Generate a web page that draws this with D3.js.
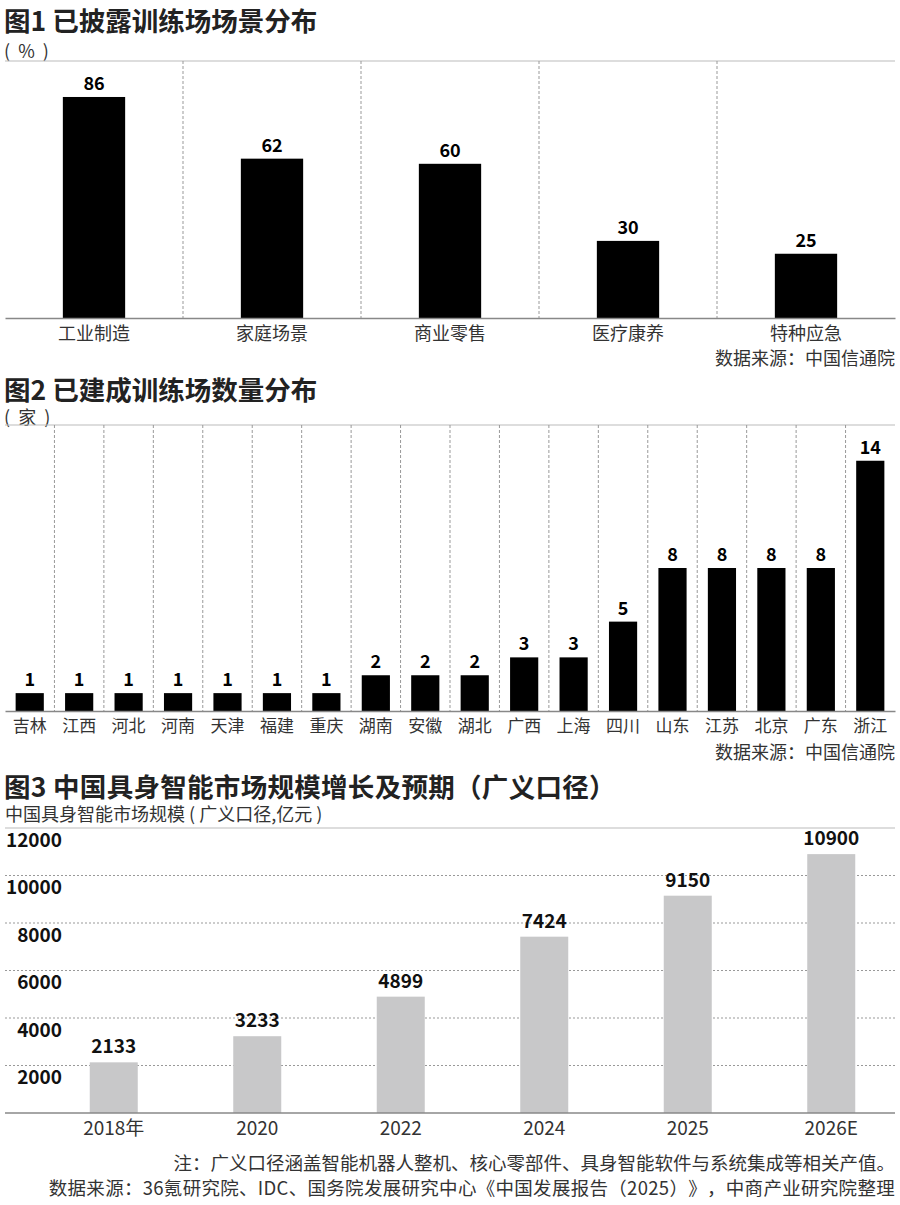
<!DOCTYPE html>
<html>
<head>
<meta charset="utf-8">
<script src="https://cdn.jsdelivr.net/npm/d3@7/dist/d3.min.js"></script>
<style>
    body { margin: 0; background: #fff; }
    text { font-family: "Noto Sans CJK SC", "Noto Sans", sans-serif; text-spacing-trim: space-all; }
</style>
</head>
<body>
<div id="chart"></div>
<script>
// fig 1 - training ground scenes (%)
let sceneNames = ["工业制造", "家庭场景", "商业零售", "医疗康养", "特种应急"];
let sceneShare = [86, 62, 60, 30, 25];

// fig 2 - training grounds built, by province
let provinceNames = ["吉林", "江西", "河北", "河南", "天津", "福建", "重庆", "湖南", "安徽",
    "湖北", "广西", "上海", "四川", "山东", "江苏", "北京", "广东", "浙江"];
let siteCount = [1, 1, 1, 1, 1, 1, 1, 2, 2, 2, 3, 3, 5, 8, 8, 8, 8, 14];

// fig 3 - market size (100m yuan)
let yearLabels = ["2018年", "2020", "2022", "2024", "2025", "2026E"];
let marketSize = [2133, 3233, 4899, 7424, 9150, 10900];
let marketTicks = [2000, 4000, 6000, 8000, 10000, 12000];

let left = 5, right = 895;

let svg = d3.select("#chart").append("svg")
    .attr("width", 900)
    .attr("height", 1205);

function addText(x, y, txt, size, opts) {
    opts = opts || {};
    return svg.append("text")
        .attr("x", x)
        .attr("y", y)
        .attr("dominant-baseline", "central")
        .attr("text-anchor", opts.anchor || "start")
        .attr("font-size", size + "px")
        .attr("font-weight", opts.weight || "normal")
        .attr("letter-spacing", opts.spacing || null)
        .attr("xml:space", "preserve")
        .attr("fill", opts.color || "#333")
        .text(txt);
}

function hLine(y, color, width) {
    svg.append("line")
        .attr("x1", left).attr("x2", right)
        .attr("y1", y).attr("y2", y)
        .attr("stroke", color)
        .attr("stroke-width", width || 1.2);
}

// black column chart with dashed separators (fig 1 and fig 2)
function columnChart(names, values, maxVal, top, base, barFrac, labelSize) {
    let x = d3.scaleBand().domain(names).range([left, right]);
    let y = d3.scaleLinear().domain([0, maxVal]).range([base, top]);

    hLine(top, "#bbb");

    svg.append("g").selectAll("line")
        .data(names.slice(1))
        .enter().append("line")
        .attr("x1", d => x(d)).attr("x2", d => x(d))
        .attr("y1", top).attr("y2", base)
        .attr("stroke", "#999")
        .attr("stroke-width", 1)
        .attr("stroke-dasharray", "3,2");

    let bw = x.bandwidth() * barFrac;
    let rows = names.map((n, i) => ({name: n, value: values[i]}));

    svg.append("g").selectAll("rect")
        .data(rows)
        .enter().append("rect")
        .attr("x", d => x(d.name) + (x.bandwidth() - bw) / 2)
        .attr("y", d => y(d.value))
        .attr("width", bw)
        .attr("height", d => base - y(d.value))
        .attr("fill", "#000");

    svg.append("g").selectAll("text")
        .data(rows)
        .enter().append("text")
        .attr("x", d => x(d.name) + x.bandwidth() / 2)
        .attr("y", d => y(d.value) - 7)
        .attr("text-anchor", "middle")
        .attr("font-size", "18px")
        .attr("font-weight", "bold")
        .attr("fill", "#000")
        .text(d => d.value);

    let axis = svg.append("g")
        .attr("transform", "translate(0," + base + ")")
        .call(d3.axisBottom(x).tickSize(0).tickPadding(9).tickSizeOuter(0));
    axis.select(".domain").attr("stroke", "#888").attr("stroke-width", 1.5);
    axis.selectAll("text")
        .attr("font-size", labelSize + "px")
        .attr("font-family", "Noto Sans CJK SC")
        .attr("fill", "#333");
}

// ---- fig 1
addText(4, 19, "图1 已披露训练场场景分布", 26.5, {weight: "bold", color: "#222"});
addText(4, 50, "(  %  )", 18, {color: "#333"});
columnChart(sceneNames, sceneShare, 100, 61, 318, 0.35, 18);
addText(right, 357, "数据来源：中国信通院", 18, {anchor: "end"});

// ---- fig 2
addText(4, 388, "图2 已建成训练场数量分布", 26.5, {weight: "bold", color: "#222"});
addText(4, 416, "(  家  )", 18, {color: "#333"});
columnChart(provinceNames, siteCount, 16, 425, 711, 0.57, 17);
addText(right, 751, "数据来源：中国信通院", 18, {anchor: "end"});

// ---- fig 3
addText(4, 785, "图3 中国具身智能市场规模增长及预期（广义口径）", 26.5, {weight: "bold", color: "#222", spacing: 0.3});
addText(5, 813, "中国具身智能市场规模 ( 广义口径,亿元 )", 18, {color: "#333"});

let x3 = d3.scaleBand().domain(yearLabels).range([42, 903]);
let y3 = d3.scaleLinear().domain([0, 12000]).range([1113, 828]);

// grid
svg.append("g").selectAll("line")
    .data(marketTicks)
    .enter().append("line")
    .attr("x1", left).attr("x2", right)
    .attr("y1", d => y3(d)).attr("y2", d => y3(d))
    .attr("stroke", d => d === 12000 ? "#bbb" : "#999")
    .attr("stroke-width", d => d === 12000 ? 1.2 : 1)
    .attr("stroke-dasharray", d => d === 12000 ? null : "2,2");

// y labels sit just under their grid line
let yAxis3 = svg.append("g")
    .attr("transform", "translate(62,12)")
    .call(d3.axisLeft(y3).tickValues(marketTicks).tickFormat(d3.format("d")).tickSize(0).tickPadding(0));
yAxis3.select(".domain").remove();
yAxis3.selectAll("text")
    .attr("font-size", "19px")
    .attr("font-weight", "bold")
    .attr("font-family", "Noto Sans CJK SC")
    .attr("fill", "#111");

let bw3 = 48;
let market = yearLabels.map((n, i) => ({year: n, value: marketSize[i]}));

svg.append("g").selectAll("rect")
    .data(market)
    .enter().append("rect")
    .attr("x", d => x3(d.year) + x3.bandwidth() / 2 - bw3 / 2)
    .attr("y", d => y3(d.value))
    .attr("width", bw3)
    .attr("height", d => 1113 - y3(d.value))
    .attr("fill", "#c8c8c9");

svg.append("g").selectAll("text")
    .data(market)
    .enter().append("text")
    .attr("x", d => x3(d.year) + x3.bandwidth() / 2)
    .attr("y", d => y3(d.value) - 9)
    .attr("text-anchor", "middle")
    .attr("font-size", "19px")
    .attr("font-weight", "bold")
    .attr("fill", "#111")
    .text(d => d.value);

let xAxis3 = svg.append("g")
    .attr("transform", "translate(0,1113)")
    .call(d3.axisBottom(x3).tickSize(0).tickPadding(8));
xAxis3.select(".domain").remove();
xAxis3.selectAll("text")
    .attr("font-size", "19px")
    .attr("font-family", "Noto Sans CJK SC")
    .attr("fill", "#333");
hLine(1113, "#888", 1.5);

addText(right, 1162, "注：广义口径涵盖智能机器人整机、核心零部件、具身智能软件与系统集成等相关产值。", 18.5, {anchor: "end"});
addText(right, 1187, "数据来源：36氪研究院、IDC、国务院发展研究中心《中国发展报告（2025）》，中商产业研究院整理", 18.5, {anchor: "end", spacing: 0.3});
</script>
</body>
</html>
